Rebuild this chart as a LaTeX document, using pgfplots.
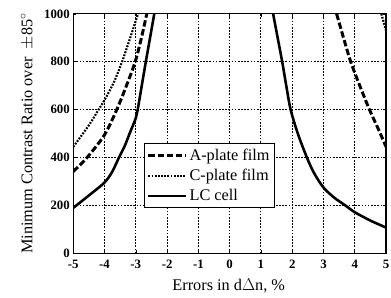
\documentclass[border=0pt]{standalone}
\usepackage{pgfplots}
\pgfplotsset{compat=1.18}
\usepackage{fontspec}
\setmainfont{Liberation Serif}
\begin{document}
\begin{tikzpicture}
\begin{axis}[
  name=ax,
  scale only axis,
  width=316bp, height=242bp,
  xmin=-5, xmax=5, ymin=0, ymax=1000,
  xtick={-5,-4,-3,-2,-1,0,1,2,3,4,5},
  xticklabels={-5,-4,-3,-2,-1,0,1,2,3,4,5},
  ytick={0,200,400,600,800,1000},
  yticklabels={0,200,400,600,800,1000},
  tick label style={font=\fontsize{13}{13}\selectfont\bfseries},
  xticklabel style={yshift=-3bp},
  grid=major,
  major grid style={black, line width=0.95bp, dash pattern=on 1.6bp off 1.6bp},
  major tick length=3bp,
  tick style={black, line width=0.6bp},
  axis line style={black, line width=1.2bp},
  xlabel={Errors in d$\Delta$n, \%},
  ylabel={Minimum Contrast Ratio over \ $\pm$85$^\circ$},
  every axis x label/.style={at={(axis description cs:0.497,-0.153)}, anchor=base, font=\fontsize{16.5}{16.5}\selectfont},
  every axis y label/.style={at={(axis description cs:-0.147,0.5)}, rotate=90, anchor=center, font=\fontsize{16.5}{16.5}\selectfont},
  legend cell align=left,
  legend style={at={(axis description cs:0.225,0.459)}, anchor=north west,
    draw=black, line width=0.8bp, fill=white,
    font=\fontsize{16.5}{16.5}\selectfont,
    inner xsep=3bp, inner ysep=2bp,
    nodes={inner xsep=2bp, inner ysep=3.6bp}},
  legend image code/.code={\draw[#1] (0bp,0bp) -- (38bp,0bp);},
]
% A-plate film (dashed)
\addplot[black, line width=3bp, dash pattern=on 6.5bp off 2.7bp, smooth, tension=0.5] coordinates {
(-5,342) (-4.56,400) (-4,495) (-3.61,600) (-3.3,700) (-3.02,800) (-2.82,900) (-2.65,1000)};
\addlegendentry{A-plate film}
% C-plate film (dotted)
\addplot[black, line width=2.2bp, dash pattern=on 1.8bp off 1.4bp, smooth, tension=0.5] coordinates {
(-5,445) (-4.5,535) (-4.19,600) (-4,640) (-3.7,715) (-3.44,800) (-3.18,900) (-2.93,1000)};
\addlegendentry{C-plate film}
% LC cell (solid)
\addplot[black, line width=2.6bp, smooth, tension=0.5] coordinates {
(-5,190) (-4.5,242) (-4,296) (-3.75,342) (-3.54,400) (-3.35,450) (-3.2,500) (-3,565) (-2.94,600) (-2.81,700) (-2.68,800) (-2.545,900) (-2.41,1000)};
\addlegendentry{LC cell}
% right branches
\addplot[black, line width=2.6bp, smooth, tension=0.5, forget plot] coordinates {
(1.39,1000) (1.535,900) (1.68,800) (1.81,700) (1.95,600) (2.18,500) (2.47,400) (2.7,335) (3,275) (3.35,232) (3.7,200) (4,172) (4.5,137) (5,108)};
\addplot[black, line width=3bp, dash pattern=on 6.5bp off 2.7bp, smooth, tension=0.5, forget plot] coordinates {
(3.42,1000) (3.64,900) (3.87,800) (4.16,700) (4.47,600) (4.75,520) (5,445)};
\addplot[black, line width=2.2bp, dash pattern=on 1.8bp off 1.4bp, forget plot] coordinates {
(4.85,1000) (5,930)};
\end{axis}
\pgfresetboundingbox
\path ([xshift=-74bp,yshift=-45bp]ax.south west) rectangle ([xshift=5bp,yshift=14bp]ax.north east);
\end{tikzpicture}
\end{document}
